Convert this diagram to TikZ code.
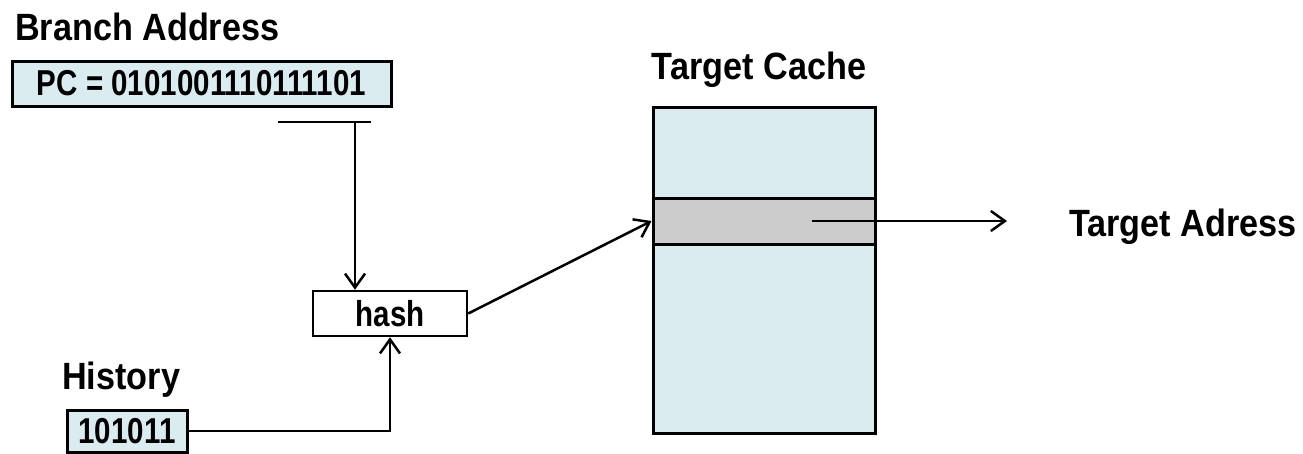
\documentclass[tikz,border=0pt]{standalone}
\usepackage{fontspec}
\setmainfont{Liberation Sans}
\usetikzlibrary{arrows.meta}
\definecolor{boxblue}{RGB}{218,236,240}
\definecolor{rowgray}{RGB}{204,204,204}
\newcommand{\condtxt}[1]{\scalebox{0.82}[1]{#1}}
\newcommand{\condlbl}[1]{\scalebox{0.9}[1]{#1}}
\begin{document}
\begin{tikzpicture}[x=1pt,y=-1pt,
  lbl/.style={font=\fontsize{38}{42}\selectfont\bfseries, inner sep=0pt},
  regbox/.style={draw, line width=3pt, fill=boxblue, inner sep=0pt,
    font=\fontsize{36}{40}\selectfont\bfseries},
  hashbox/.style={draw, line width=2.5pt, fill=white, inner sep=0pt,
    font=\fontsize{36}{40}\selectfont\bfseries},
  conn/.style={line width=2.5pt, -{Straight Barb[length=14pt,width=20pt,line width=2.5pt]}},
  plain/.style={line width=2.5pt}]
\useasboundingbox (0,0) rectangle (1303,453);

% labels
\node[lbl, anchor=base west] (brlbl) at (15,40) {\condlbl{Branch Address}};
\node[lbl, anchor=base west] (histlbl) at (62,389) {\condlbl{History}};
\node[lbl, anchor=base] (tclbl) at (759,79) {\condlbl{Target Cache}};
\node[lbl, anchor=base west] (talbl) at (1069,236) {\condlbl{Target Adress}};

% boxes
\node[regbox, minimum width=379pt, minimum height=45pt] (pc) at (201.5,83.5) {\condtxt{PC = 0101001110111101}};
\node[regbox, minimum width=120pt, minimum height=42pt] (hist) at (127,431) {\condtxt{101011}};
\node[hashbox, minimum width=154pt, minimum height=45pt] (hash) at (390,313.5) {\condtxt{hash}};

% target cache
\node[draw, line width=3pt, fill=boxblue, minimum width=222pt, minimum height=326pt, inner sep=0pt] (cache) at (764,270) {};
\node[draw, line width=3pt, fill=rowgray, minimum width=222pt, minimum height=46pt, inner sep=0pt] (row) at (764,221) {};

% PC bit selection
\coordinate (tl) at (278,122);
\coordinate (tr) at (371,122);
\coordinate (tee) at (355,122);
\draw[plain] (tl) -- (tr);
\draw[conn] (tee) -- (tee |- hash.north);

% history into hash
\draw[conn] (hist.east) -| (hash.south);

% hash into cache
\draw[conn] (hash.east) -- (row.west);

% output
\coordinate (rowsrc) at (812,221);
\coordinate (outtip) at (1007,221);
\draw[conn] (rowsrc) -- (outtip);
\end{tikzpicture}
\end{document}
